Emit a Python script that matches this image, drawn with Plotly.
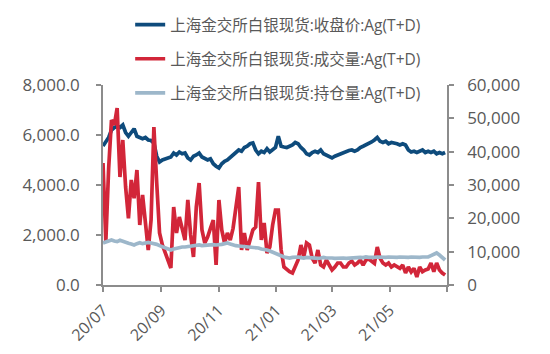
import plotly.graph_objects as go

dates = [
    "2020-07-01","2020-07-04","2020-07-07","2020-07-10","2020-07-13","2020-07-16","2020-07-19","2020-07-22","2020-07-25","2020-07-28",
    "2020-07-31","2020-08-03","2020-08-06","2020-08-09","2020-08-12","2020-08-15","2020-08-18","2020-08-21","2020-08-24","2020-08-27",
    "2020-08-30","2020-09-02","2020-09-05","2020-09-08","2020-09-11","2020-09-14","2020-09-17","2020-09-20","2020-09-23","2020-09-26",
    "2020-09-29","2020-10-02","2020-10-05","2020-10-08","2020-10-11","2020-10-14","2020-10-17","2020-10-20","2020-10-23","2020-10-26",
    "2020-10-29","2020-11-01","2020-11-04","2020-11-07","2020-11-10","2020-11-13","2020-11-16","2020-11-19","2020-11-22","2020-11-25",
    "2020-11-28","2020-12-01","2020-12-04","2020-12-07","2020-12-10","2020-12-13","2020-12-16","2020-12-19","2020-12-22","2020-12-25",
    "2020-12-28","2020-12-31","2021-01-03","2021-01-06","2021-01-09","2021-01-12","2021-01-15","2021-01-18","2021-01-21","2021-01-24",
    "2021-01-27","2021-01-30","2021-02-02","2021-02-05","2021-02-08","2021-02-11","2021-02-14","2021-02-17","2021-02-20","2021-02-23",
    "2021-02-26","2021-03-01","2021-03-04","2021-03-07","2021-03-10","2021-03-13","2021-03-16","2021-03-19","2021-03-22","2021-03-25",
    "2021-03-28","2021-03-31","2021-04-03","2021-04-06","2021-04-09","2021-04-12","2021-04-15","2021-04-18","2021-04-21","2021-04-24",
    "2021-04-27","2021-04-30","2021-05-03","2021-05-06","2021-05-09","2021-05-12","2021-05-15","2021-05-18","2021-05-21","2021-05-24",
    "2021-05-27","2021-05-30","2021-06-02","2021-06-05","2021-06-08","2021-06-11","2021-06-14","2021-06-17","2021-06-20","2021-06-23",
    "2021-06-26","2021-06-29",
]

close_price = [
    5560, 5750, 5900, 6200, 6300, 6350, 6300, 6400, 6100, 5950,
    6100, 6250, 5950, 5900, 5850, 5900, 5800, 5780, 5680, 5150,
    4920, 5000, 5050, 5100, 5120, 5280, 5200, 5320, 5250, 5280,
    5080, 5000, 5150, 5200, 5280, 5120, 5050, 5000, 5050, 4850,
    4750, 4680, 4850, 4950, 5000, 5100, 5200, 5280, 5400, 5350,
    5500, 5550, 5650, 5680, 5400, 5250, 5350, 5300, 5450, 5320,
    5400, 5500, 5950, 5550, 5520, 5500, 5550, 5600, 5700, 5650,
    5500, 5400, 5250, 5200, 5300, 5350, 5300, 5400, 5250, 5200,
    5150, 5080, 5150, 5200, 5250, 5300, 5320, 5380, 5400, 5350,
    5400, 5500, 5550, 5600, 5680, 5720, 5800, 5900, 5750, 5700,
    5750, 5650, 5700, 5680, 5650, 5600, 5650, 5600, 5400, 5320,
    5350, 5300, 5350, 5400, 5300, 5350, 5300, 5350, 5250, 5300,
    5250, 5300,
]

volume = [
    36600, 13000, 35000, 49500, 48000, 53100, 32400, 43500, 29400, 20000,
    31500, 26000, 34500, 18000, 27000, 19500, 10500, 19500, 47400, 30600,
    15600, 12000, 9600, 7000, 5100, 23400, 15600, 20400, 16500, 13500,
    25500, 15000, 8400, 23400, 30600, 16500, 12600, 14400, 17000, 19500,
    6000, 25500, 16500, 12600, 15600, 13500, 17000, 22500, 29400, 10500,
    15600, 10500, 14000, 16500, 17400, 30900, 13500, 18600, 9600, 11400,
    18000, 22500, 22500, 10500, 5400, 4500, 4000, 3600, 5500, 7500,
    12000, 8400, 12600, 12000, 8000, 6600, 10500, 6000, 5400, 7500,
    6000, 4500, 5400, 6600, 6600, 5400, 5400, 6600, 7200, 6000,
    6600, 7500, 6000, 7500, 7800, 7000, 6500, 11400, 8000, 6600,
    6000, 6600, 5400, 6000, 5400, 5000, 6000, 3600, 5400, 3900,
    5000, 2400, 5400, 4000, 4500, 4800, 6600, 4000, 6600, 4500,
    3600, 3000,
]

open_interest = [
    12600, 12900, 13200, 13500, 13200, 13000, 13400, 13000, 12800, 12500,
    12300, 12000, 12400, 12700, 12400, 12600, 12800, 12600, 12500, 12200,
    11800, 11400, 11000, 10700, 10500, 10800, 11000, 11300, 11400, 11400,
    11500, 11700, 11800, 11900, 12000, 11800, 11900, 12000, 12000, 12100,
    12000, 12000, 12200, 12400, 12600, 12300, 12000, 11800, 11700, 11600,
    11500, 11400, 11400, 11200, 11300, 11100, 10800, 10700, 10500, 10200,
    9900, 9600, 9200, 8800, 8400, 8200, 8100, 8300, 8400, 8400,
    8200, 8100, 8300, 8200, 8100, 8200, 8000, 8100, 8300, 8100,
    8200, 8100, 8000, 8100, 8200, 8100, 8000, 8100, 8200, 8300,
    8400, 8300, 8200, 8400, 8300, 8200, 8300, 8400, 8300, 8200,
    8300, 8400, 8300, 8200, 8300, 8400, 8300, 8200, 8300, 8400,
    8300, 8200, 8300, 8400, 8300, 8400, 8800, 9300, 9600, 9000,
    8100, 7500,
]

names = [
    "上海金交所白银现货:收盘价:Ag(T+D)",
    "上海金交所白银现货:成交量:Ag(T+D)",
    "上海金交所白银现货:持仓量:Ag(T+D)",
]
x_tickvals = ["2020-07-01", "2020-09-01", "2020-11-01", "2021-01-01", "2021-03-01", "2021-05-01", "2021-07-01"]
x_ticktext = ["20/07", "20/09", "20/11", "21/01", "21/03", "21/05", ""]
left_ticks = [0, 2000, 4000, 6000, 8000]
right_ticks = [0, 10000, 20000, 30000, 40000, 50000, 60000]

BLUE = "#0E4B7C"
RED = "#D22639"
GRAY = "#9DB7CA"
TXT = "#595959"
AX = "#8C8C8C"
FONT = "Open Sans, Noto Sans CJK SC, sans-serif"

fig = go.Figure()
fig.add_trace(go.Scatter(x=dates, y=close_price, name=names[0], mode="lines",
                         line=dict(color=BLUE, width=3.7), legendgroup="a", yaxis="y"))
fig.add_trace(go.Scatter(x=dates, y=volume, name=names[1], mode="lines",
                         line=dict(color=RED, width=3.7), legendgroup="b", yaxis="y2"))
fig.add_trace(go.Scatter(x=dates, y=open_interest, name=names[2], mode="lines",
                         line=dict(color=GRAY, width=3.7), legendgroup="c", yaxis="y2"))

fig.update_layout(
    width=550, height=354,
    margin=dict(l=103, r=103, t=85, b=69, autoexpand=False),
    paper_bgcolor="white", plot_bgcolor="white",
    font=dict(family=FONT, color=TXT, size=16),
    showlegend=True,
    legend=dict(x=0.079, y=1.385, xanchor="left", yanchor="top", orientation="v",
                tracegroupgap=11, bgcolor="rgba(0,0,0,0)",
                font=dict(size=15.5, color=TXT, family=FONT)),
    xaxis=dict(type="date", range=["2020-07-01", "2021-07-01"],
               tickvals=x_tickvals, ticktext=x_ticktext, tickangle=-45,
               showline=True, linecolor=AX, linewidth=1.5,
               ticks="outside", ticklen=5, tickcolor=AX, tickwidth=1.5,
               ticklabelstandoff=3,
               showgrid=False, zeroline=False, automargin=False,
               tickfont=dict(size=16, color=TXT)),
    yaxis=dict(range=[0, 8000], tickvals=left_ticks, tickformat=",.1f",
               showline=True, linecolor=AX, linewidth=1.5,
               ticks="outside", ticklen=5, tickcolor=AX, tickwidth=1.5,
               ticklabelstandoff=13,
               showgrid=False, zeroline=False, automargin=False,
               tickfont=dict(size=17, color=TXT)),
    yaxis2=dict(range=[0, 60000], tickvals=right_ticks, tickformat=",.0f",
                overlaying="y", side="right",
                showline=True, linecolor=AX, linewidth=1.5,
                ticks="outside", ticklen=5, tickcolor=AX, tickwidth=1.5,
                ticklabelstandoff=10,
                showgrid=False, zeroline=False, automargin=False,
                tickfont=dict(size=17, color=TXT)),
)

fig.write_html("out.html")
